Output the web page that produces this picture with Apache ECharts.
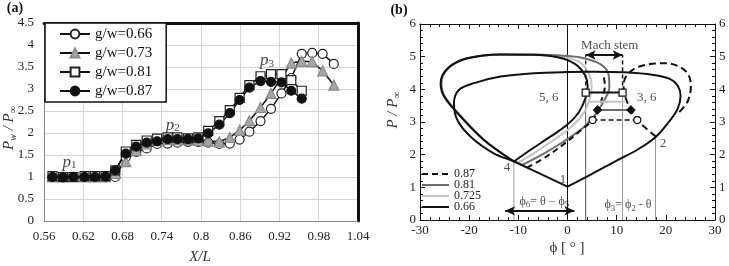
<!DOCTYPE html>
<html>
<head>
<meta charset="utf-8">
<script src="https://cdn.jsdelivr.net/npm/echarts@6/dist/echarts.min.js"></script>
<style>
html, body { margin: 0; padding: 0; background: #fff; }
#main { width: 729px; height: 266px; }
</style>
</head>
<body>
<div id="main"></div>
<script>
// ---- panel (a): wall pressure along X/L ----
const xPos = [0.573, 0.589, 0.605, 0.622, 0.638, 0.654, 0.669, 0.685, 0.701, 0.717, 0.733, 0.749, 0.764, 0.780,
    0.796, 0.811, 0.828, 0.844, 0.859, 0.874, 0.891, 0.907, 0.923, 0.938, 0.954, 0.970, 0.986, 1.003];
const gw066 = [1.0, 1.0, 1.0, 1.0, 1.0, 1.0, 1.0, 1.45, 1.57, 1.65, 1.75, 1.76, 1.78, 1.8,
    1.8, 1.78, 1.75, 1.76, 1.85, 2.03, 2.27, 2.55, 2.9, 3.25, 3.8, 3.82, 3.8, 3.57];
const gw073 = [1.0, 1.0, 1.0, 1.0, 1.0, 1.0, 1.08, 1.35, 1.6, 1.75, 1.83, 1.85, 1.85, 1.85,
    1.83, 1.82, 1.8, 1.9, 2.06, 2.28, 2.58, 2.9, 3.25, 3.59, 3.63, 3.62, 3.41, 3.09];
const gw081 = [1.02, 1.0, 1.0, 1.02, 1.02, 1.02, 1.15, 1.58, 1.73, 1.83, 1.87, 1.9, 1.9, 1.88,
    1.9, 2.05, 2.27, 2.52, 2.8, 3.09, 3.29, 3.34, 3.34, 3.2, 2.96];
const gw087 = [1.0, 0.99, 1.0, 1.0, 1.0, 1.01, 1.15, 1.53, 1.69, 1.78, 1.81, 1.86, 1.86, 1.86,
    1.88, 1.99, 2.19, 2.45, 2.75, 3.03, 3.18, 3.16, 3.15, 2.96, 2.78];
const xTicksA = [0.56, 0.62, 0.68, 0.74, 0.8, 0.86, 0.92, 0.98, 1.04];
const pLabels = [['1', 0.599, 1.34], ['2', 0.757, 2.18], ['3', 0.901, 3.65]];

// ---- panel (b): shock polars, P/Pinf vs phi ----
const polarFrom1 = [[0, 1.02], [5, 1.41], [10, 1.82], [14.2, 2.15], [18, 2.55], [20.6, 3.0], [22.4, 3.4], [23, 3.8],
    [22.4, 4.12], [20.8, 4.32], [17.5, 4.44], [11.5, 4.52], [5, 4.54], [0, 4.53], [-6.8, 4.49], [-13.6, 4.39],
    [-19, 4.19], [-22.1, 3.98], [-23.1, 3.57], [-22.4, 3.06], [-19.7, 2.55], [-15, 2.04], [-10.9, 1.79],
    [-5.5, 1.41], [0, 1.02]];
const refl066 = [[-10.9, 1.79], [-7.5, 2.15], [-3.5, 2.55], [0, 2.92], [2.3, 3.3], [3.7, 3.75], [4.1, 4.1],
    [3.5, 4.45], [1.5, 4.78], [-2, 4.98], [-7, 5.06], [-13.6, 5.07], [-20.4, 4.95], [-24.3, 4.65],
    [-25.8, 4.19], [-25.1, 3.78], [-21.7, 3.16], [-17, 2.45], [-10.9, 1.79]];
const refl0725 = [[-10.2, 1.74], [-6.5, 2.08], [-2.5, 2.48], [1, 2.88], [3.4, 3.3], [4.6, 3.75], [4.9, 4.1],
    [4.3, 4.5], [2.3, 4.84], [-1.7, 5.01], [-7, 5.05], [-13.6, 5.06], [-20.4, 4.94], [-24.2, 4.64],
    [-25.6, 4.19], [-24.9, 3.78], [-21.5, 3.15], [-16.8, 2.43], [-12.6, 1.96], [-10.2, 1.74]];
const refl081 = [[-9.3, 1.68], [-5, 2.02], [-1, 2.38], [3, 2.8], [5, 3.1], [6.3, 3.37], [7.6, 3.7], [8.5, 4.05],
    [8.4, 4.42], [6.6, 4.78], [2.5, 4.98], [-2, 5.04], [-7, 5.07], [-13.6, 5.07], [-20.4, 4.95], [-24.2, 4.66],
    [-25.7, 4.2], [-25, 3.78], [-21.6, 3.16], [-16.9, 2.44], [-12.6, 1.96], [-9.3, 1.68]];
const refl087 = [[-8.2, 1.6], [-4, 1.97], [-0.7, 2.33], [2.5, 2.72], [5.1, 3.06], [6.1, 3.37], [7.1, 3.75],
    [7.6, 4.1], [7.3, 4.45]];
const polarFrom2 = [[18, 2.55], [16, 2.8], [14.2, 3.06], [12.9, 3.37], [11.8, 3.75], [11.4, 4.1], [12, 4.42],
    [14.6, 4.7], [20, 4.8], [24.1, 4.55], [25.1, 4.1], [24.4, 3.62], [22.7, 3.3]];
const stemBlack = [[3.7, 3.9], [11.2, 3.9]];
const stemLight = [[4.5, 3.62], [11.7, 3.62]];
const stemDark = [[6.1, 3.37], [12.9, 3.37]];
const stemDash = [[5.1, 3.06], [14.2, 3.06]];
const guideLines = [[-10.9, 1.79, '#999'], [3.7, 3.9, '#555'], [11.2, 3.9, '#999'], [17.9, 2.55, '#999']];
const machTop = 5.05;
const phi6Arrow = [[-12.7, 0.28], [1.4, 0.28]];
const textsB = [
    ['1', -0.9, 1.25], ['2', 19.4, 2.35], ['4', -12.3, 1.6], ['5, 6', -3.8, 3.76], ['3, 6', 16.1, 3.76],
    ['Mach stem', 8.6, 5.33],
    ['{t|ϕ}{s|6}{t|= θ − ϕ}{s|5}', -4.7, 0.55], ['{t|ϕ}{s|3}{t|= ϕ}{s|2}{t| - θ}', 12.3, 0.45]
];

const SERIF = '"Liberation Serif", "DejaVu Serif", serif';
const chart = echarts.init(document.getElementById('main'));

function seriesA(name, vals, symbol, size, fill, border) {
    return {
        name: name, type: 'line', xAxisIndex: 0, yAxisIndex: 0,
        data: vals.map((v, i) => [xPos[i], v]),
        symbol: symbol, symbolSize: size, showSymbol: true,
        lineStyle: { color: '#111', width: 1.5 },
        itemStyle: { color: fill, borderColor: border, borderWidth: 1.2 },
        emphasis: { disabled: true }, animation: false
    };
}

function lineB(name, data, color, width, type, smooth) {
    return {
        name: name, type: 'line', xAxisIndex: 2, yAxisIndex: 2, data: data,
        symbol: 'none', smooth: smooth ? 0.35 : false,
        lineStyle: { color: color, width: width, type: type || 'solid' },
        itemStyle: { color: color },
        emphasis: { disabled: true }, animation: false, silent: true
    };
}

function stemB(data, color, width, type, symbol, fill) {
    const s = lineB('', data, color, width, type, false);
    s.symbol = symbol;
    s.symbolSize = symbol === 'diamond' ? 8 : 7;
    s.showSymbol = true;
    s.itemStyle = { color: fill, borderColor: '#111', borderWidth: 1.2 };
    return s;
}

function textSeries(xi, yi, rows, label) {
    return {
        type: 'scatter', xAxisIndex: xi, yAxisIndex: yi, symbolSize: 1, silent: true,
        itemStyle: { color: 'transparent' },
        data: rows.map(d => [d[1], d[2], d[0]]),
        label: label, animation: false
    };
}

const series = [
    seriesA('g/w=0.66', gw066, 'circle', 9, '#fff', '#222'),
    seriesA('g/w=0.73', gw073, 'triangle', 10, '#a6a6a6', '#8a8a8a'),
    seriesA('g/w=0.81', gw081, 'rect', 9, '#fff', '#222'),
    seriesA('g/w=0.87', gw087, 'circle', 9, '#111', '#111'),
    textSeries(0, 0, pLabels, {
        show: true, position: 'inside',
        formatter: p => '{p|p}{n|' + p.data[2] + '}',
        rich: {
            p: { fontSize: 17, fontStyle: 'italic', fontFamily: SERIF, lineHeight: 18, color: '#111' },
            n: { fontSize: 11, fontFamily: SERIF, verticalAlign: 'bottom', lineHeight: 12, color: '#111' }
        }
    }),
    // panel (b)
    lineB('', [[0, 0], [0, 6]], '#111', 1, 'solid', false)
];
guideLines.forEach(g => series.push(lineB('', [[g[0], 0], [g[0], g[1]]], g[2], 1, 'solid', false)));
series.push(lineB('', [[stemBlack[0][0], stemBlack[0][1]], [stemBlack[0][0], machTop]], '#222', 1.3, [4, 3], false));
series.push(lineB('', [[stemBlack[1][0], stemBlack[1][1]], [stemBlack[1][0], machTop]], '#111', 1.5, [4, 3], false));
series.push(lineB('0.725', refl0725, '#c4c4c4', 2, 'solid', true));
series.push(lineB('0.81', refl081, '#6e6e6e', 2, 'solid', true));
series.push(lineB('0.87', refl087, '#111', 2, [6, 4], true));
series.push(lineB('0.66', refl066, '#111', 2, 'solid', true));
const incident = lineB('', polarFrom1, '#111', 2, 'solid', true);
incident.markLine = {
    silent: true, animation: false, symbol: ['arrow', 'arrow'], symbolSize: [7, 10],
    lineStyle: { color: '#111', width: 2, type: 'solid' }, label: { show: false },
    data: [
        [{ coord: phi6Arrow[0] }, { coord: phi6Arrow[1] }],
        [{ coord: [stemBlack[0][0], machTop] }, { coord: [stemBlack[1][0], machTop] }]
    ]
};
series.push(incident);
series.push(lineB('', polarFrom2, '#111', 2, [7, 4], true));
series.push(stemB(stemLight, '#c4c4c4', 2, 'solid', 'none', '#c4c4c4'));
series.push(stemB(stemDark, '#6e6e6e', 2, 'solid', 'diamond', '#111'));
series.push(stemB(stemDash, '#111', 1.5, [5, 3], 'circle', '#fff'));
series.push(stemB(stemBlack, '#111', 2, 'solid', 'rect', '#fff'));
series.push(textSeries(2, 2, textsB, {
    show: true, position: 'inside', color: '#222', fontSize: 13, fontFamily: SERIF,
    formatter: p => p.data[2],
    rich: {
        t: { fontSize: 12, fontFamily: SERIF, lineHeight: 15, color: '#222' },
        s: { fontSize: 9, fontFamily: SERIF, verticalAlign: 'bottom', lineHeight: 11, color: '#222' }
    }
}));

const axisLabelA = { color: '#222', fontSize: 13, fontFamily: SERIF };
const tickB = { show: true, inside: true, length: 5, lineStyle: { color: '#111' } };
const minorB = { show: true, splitNumber: 5, length: 3, lineStyle: { color: '#111' } };
const labelB = { color: '#222', fontSize: 13, fontFamily: SERIF, margin: 4 };

const option = {
    animation: false,
    backgroundColor: '#fff',
    grid: [
        { left: 44, top: 23, width: 314, height: 198, containLabel: false, outerBoundsMode: 'none' },
        { left: 420, top: 24, width: 295, height: 196, containLabel: false, outerBoundsMode: 'none' }
    ],
    xAxis: [
        {
            type: 'value', gridIndex: 0, min: 0.56, max: 1.04,
            axisLine: { show: true, onZero: false, lineStyle: { color: '#888', width: 1 } },
            axisTick: { show: false, customValues: xTicksA },
            axisLabel: Object.assign({ margin: 9, customValues: xTicksA }, axisLabelA),
            splitLine: { show: true, lineStyle: { color: '#d4d4d4', width: 1 } }
        },
        {
            type: 'value', gridIndex: 0, position: 'top', min: 0.56, max: 1.04,
            axisLine: { show: true, onZero: false, lineStyle: { color: '#111', width: 3 } },
            axisTick: { show: false }, axisLabel: { show: false }, splitLine: { show: false }
        },
        {
            type: 'value', gridIndex: 1, min: -30, max: 30, interval: 10,
            axisLine: { show: true, onZero: false, lineStyle: { color: '#111', width: 1 } },
            axisTick: tickB, minorTick: minorB, axisLabel: labelB,
            splitLine: { show: false }
        },
        {
            type: 'value', gridIndex: 1, position: 'top', min: -30, max: 30, interval: 10,
            axisLine: { show: true, onZero: false, lineStyle: { color: '#111', width: 1 } },
            axisTick: tickB, minorTick: minorB, axisLabel: { show: false },
            splitLine: { show: false }
        }
    ],
    yAxis: [
        {
            type: 'value', gridIndex: 0, min: 0, max: 4.5, interval: 0.5,
            axisLine: { show: true, onZero: false, lineStyle: { color: '#888', width: 1 } },
            axisTick: { show: false },
            axisLabel: Object.assign({ margin: 10 }, axisLabelA),
            splitLine: { show: true, lineStyle: { color: '#d4d4d4', width: 1 } }
        },
        {
            type: 'value', gridIndex: 0, position: 'right', min: 0, max: 4.5, interval: 0.5,
            axisLine: { show: true, onZero: false, lineStyle: { color: '#111', width: 3 } },
            axisTick: { show: false }, axisLabel: { show: false }, splitLine: { show: false }
        },
        {
            type: 'value', gridIndex: 1, min: 0, max: 6, interval: 1,
            axisLine: { show: true, onZero: false, lineStyle: { color: '#111', width: 1 } },
            axisTick: tickB, minorTick: minorB, axisLabel: labelB,
            splitLine: { show: false }
        },
        {
            type: 'value', gridIndex: 1, position: 'right', min: 0, max: 6, interval: 1,
            axisLine: { show: true, onZero: false, lineStyle: { color: '#111', width: 1 } },
            axisTick: tickB, minorTick: minorB, axisLabel: labelB,
            splitLine: { show: false }
        }
    ],
    legend: [
        {
            data: ['g/w=0.66', 'g/w=0.73', 'g/w=0.81', 'g/w=0.87'],
            orient: 'vertical', left: 45, top: 23, selectedMode: false,
            backgroundColor: '#fff', borderColor: '#111', borderWidth: 1.5, borderRadius: 0,
            padding: [3, 14, 3, 14], itemWidth: 30, itemHeight: 11, itemGap: 3,
            textStyle: { color: '#111', fontSize: 15, fontFamily: SERIF, lineHeight: 16 }
        },
        {
            data: ['0.87', '0.81', '0.725', '0.66'],
            orient: 'vertical', left: 421, top: 168, selectedMode: false,
            padding: 0, itemWidth: 27, itemHeight: 8, itemGap: -1,
            itemStyle: { opacity: 0 },
            textStyle: { color: '#222', fontSize: 12, fontFamily: SERIF, lineHeight: 10 }
        }
    ],
    graphic: [
        { type: 'text', x: 15, y: 8, style: { text: '(a)', font: 'bold 14px ' + SERIF, fill: '#111', align: 'center', verticalAlign: 'middle' } },
        { type: 'text', x: 399, y: 10, style: { text: '(b)', font: 'bold 14px ' + SERIF, fill: '#111', align: 'center', verticalAlign: 'middle' } },
        { type: 'text', x: 200, y: 257, style: { text: 'X/L', font: 'italic 15px ' + SERIF, fill: '#333', align: 'center', verticalAlign: 'middle' } },
        { type: 'text', x: 567, y: 248, style: { text: 'ϕ [ ° ]', font: '15px ' + SERIF, fill: '#333', align: 'center', verticalAlign: 'middle' } },
        {
            type: 'text', x: 9, y: 128, rotation: Math.PI / 2,
            style: {
                text: '{i|P}{s|w}{i| / P}{s|∞}', align: 'center', verticalAlign: 'middle', fill: '#333',
                rich: {
                    i: { fontSize: 15, fontStyle: 'italic', fontFamily: SERIF, lineHeight: 18, fill: '#333' },
                    s: { fontSize: 10, fontStyle: 'italic', fontFamily: SERIF, verticalAlign: 'bottom', lineHeight: 11, fill: '#333' }
                }
            }
        },
        {
            type: 'text', x: 393, y: 110, rotation: Math.PI / 2,
            style: {
                text: '{i|P / P}{s|∞}', align: 'center', verticalAlign: 'middle', fill: '#333',
                rich: {
                    i: { fontSize: 15, fontStyle: 'italic', fontFamily: SERIF, lineHeight: 18, fill: '#333' },
                    s: { fontSize: 10, fontStyle: 'italic', fontFamily: SERIF, verticalAlign: 'bottom', lineHeight: 11, fill: '#333' }
                }
            }
        }
    ],
    series: series
};

chart.setOption(option);
</script>
</body>
</html>
